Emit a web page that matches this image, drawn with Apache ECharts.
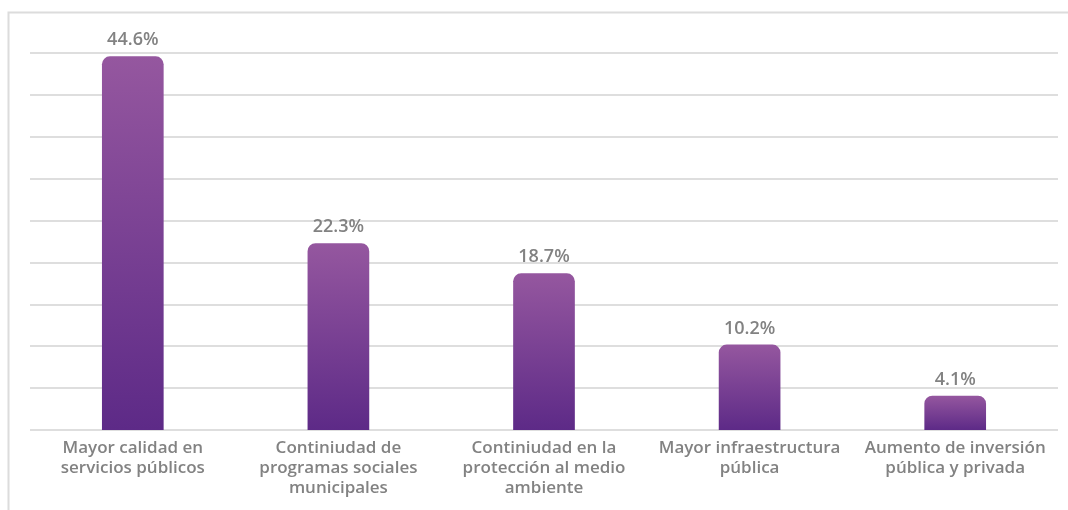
<!DOCTYPE html>
<html>
<head>
<meta charset="utf-8">
<script src="https://cdn.jsdelivr.net/npm/echarts@6/dist/echarts.min.js"></script>
<style>
  html, body { margin: 0; padding: 0; background: #fff; }
  #echarts { width: 1068px; height: 510px; }
</style>
</head>
<body>
<div id="echarts"></div>
<script>
// categorías del eje x
const categories = [
  'Mayor calidad en\nservicios públicos',
  'Continiudad de\nprogramas sociales\nmunicipales',
  'Continiudad en la\nprotección al medio\nambiente',
  'Mayor infraestructura\npública',
  'Aumento de inversión\npública y privada'
]
// porcentajes
const values = [44.6, 22.3, 18.7, 10.2, 4.1]

const FONT = '"Open Sans", "Noto Sans", sans-serif'
const GREY = '#828282'

const chart = echarts.init(document.querySelector('#echarts'))

chart.setOption({
  animation: false,
  graphic: [{
    type: 'rect',
    shape: { x: 8.5, y: 12.5, width: 1080, height: 520 },
    style: { fill: 'none', stroke: '#dcdcdc', lineWidth: 2 },
    silent: true
  }],
  grid: { left: 30, right: 10, top: 53, bottom: 80 },
  xAxis: {
    type: 'category',
    data: categories,
    axisLine: { show: false },
    axisTick: { show: false },
    axisLabel: {
      color: GREY,
      fontFamily: FONT,
      fontWeight: 600,
      fontSize: 17,
      lineHeight: 20,
      margin: 8,
      interval: 0
    }
  },
  yAxis: {
    type: 'value',
    min: 0,
    max: 45,
    interval: 5,
    axisLabel: { show: false },
    axisLine: { show: false },
    axisTick: { show: false },
    splitLine: { lineStyle: { color: '#dedede', width: 2 } }
  },
  series: [{
    type: 'bar',
    data: values,
    barWidth: '30%',
    itemStyle: {
      borderRadius: [8, 8, 0, 0],
      color: new echarts.graphic.LinearGradient(0, 0, 0, 1, [
        { offset: 0, color: '#95579f' },
        { offset: 1, color: '#5d2a87' }
      ])
    },
    label: {
      show: true,
      position: 'top',
      distance: 7,
      color: GREY,
      fontFamily: FONT,
      fontWeight: 600,
      fontSize: 18,
      formatter: p => p.value.toFixed(1) + '%'
    }
  }]
})
</script>
</body>
</html>
